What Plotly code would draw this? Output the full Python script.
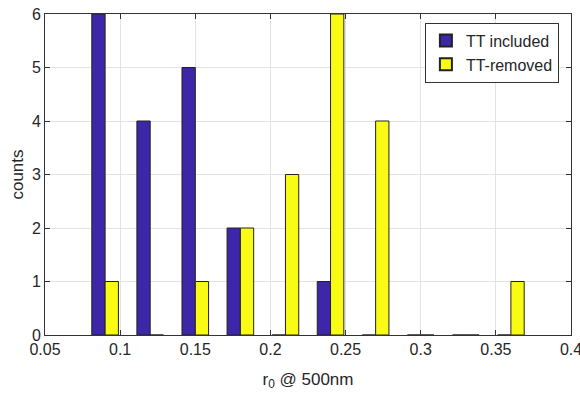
import plotly.graph_objects as go

bin_centers = [0.09, 0.12, 0.15, 0.18, 0.21, 0.24, 0.27, 0.30, 0.33, 0.36]
tt_included = [6, 4, 5, 2, 0, 1, 0, 0, 0, 0]
tt_removed = [1, 0, 1, 2, 3, 6, 4, 0, 0, 1]
x_ticks = [0.05, 0.1, 0.15, 0.2, 0.25, 0.3, 0.35, 0.4]
x_tick_labels = ["0.05", "0.1", "0.15", "0.2", "0.25", "0.3", "0.35", "0.4"]
y_ticks = [0, 1, 2, 3, 4, 5, 6]

FONT = "Liberation Sans, Arial, Helvetica"

fig = go.Figure()
fig.add_trace(go.Bar(x=bin_centers, y=tt_included, name="TT included",
                     marker=dict(color="#3E26A8", line=dict(color="#222222", width=1))))
fig.add_trace(go.Bar(x=bin_centers, y=tt_removed, name="TT-removed",
                     marker=dict(color="#F9FB15", line=dict(color="#222222", width=1))))

axis_common = dict(showline=True, linecolor="#333333", linewidth=1, mirror="ticks",
                   ticks="inside", ticklen=5, tickcolor="#333333", automargin=False,
                   showgrid=True, gridcolor="#E3E3E3", gridwidth=1, zeroline=False,
                   ticklabeloverflow="allow",
                   tickfont=dict(family=FONT, size=16, color="#262626"))

fig.update_layout(
    width=580, height=401,
    margin=dict(l=45, r=9, t=14, b=66),
    paper_bgcolor="white", plot_bgcolor="white",
    barmode="group", bargap=0.41, bargroupgap=0,
    font=dict(family=FONT, size=16, color="#262626"),
    xaxis=dict(range=[0.05, 0.4], tickvals=x_ticks, ticktext=x_tick_labels,
               title=dict(text="r<sub>0</sub> @ 500nm", standoff=15,
                          font=dict(size=17)), **axis_common),
    yaxis=dict(range=[0, 6], tickvals=y_ticks,
               title=dict(text="counts", standoff=3, font=dict(size=17)), **axis_common),
    legend=dict(x=0.977, y=0.973, xanchor="right", yanchor="top",
                bgcolor="white", bordercolor="#333333", borderwidth=1,
                font=dict(size=16), tracegroupgap=0, itemsizing="constant"),
    showlegend=True,
)

fig.write_html("out.html")
